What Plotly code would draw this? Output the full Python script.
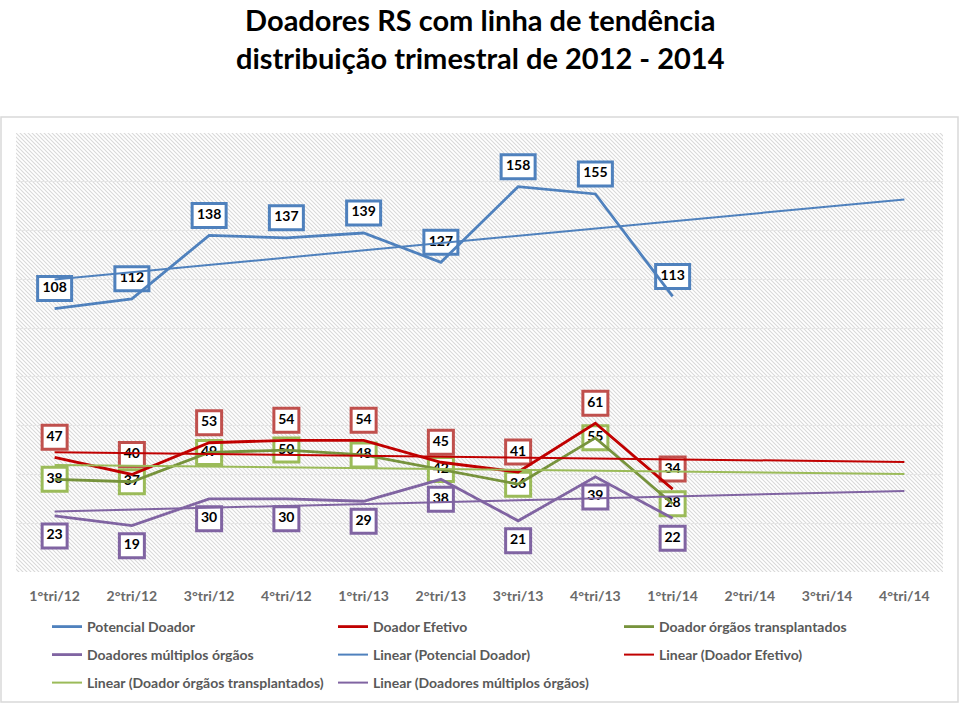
import base64
import numpy as np
import plotly.graph_objects as go

# ---------------- data ----------------
categories = ["1°tri/12", "2°tri/12", "3°tri/12", "4°tri/12",
              "1°tri/13", "2°tri/13", "3°tri/13", "4°tri/13",
              "1°tri/14", "2°tri/14", "3°tri/14", "4°tri/14"]
potencial = [108, 112, 138, 137, 139, 127, 158, 155, 113]
efetivo = [47, 40, 53, 54, 54, 45, 41, 61, 34]
transplantados = [38, 37, 49, 50, 48, 42, 36, 55, 28]
multiplos = [23, 19, 30, 30, 29, 38, 21, 39, 22]

series_names = ["Potencial Doador", "Doador Efetivo",
                "Doador órgãos transplantados", "Doadores múltiplos órgãos"]
series_values = [potencial, efetivo, transplantados, multiplos]
title_lines = ["Doadores RS com linha de tendência",
               "distribuição trimestral de 2012 - 2014"]

# ---------------- styling ----------------
W, H = 960, 704
PX0, PX1 = 16, 943          # plot area in pixels (x)
PY0, PY1 = 133, 572         # plot area in pixels (y, top/bottom)
YMAX = 180
ppu = (PY1 - PY0) / YMAX

line_colors = ["#4F81BD", "#C00000", "#77933C", "#8064A2"]
box_colors = ["#4F81BD", "#C0504D", "#9BBB59", "#8064A2"]
trend_colors = ["#4F81BD", "#C00000", "#9BBB59", "#8064A2"]
label_dy = [20, 20, 0, -20]   # label offset in px (above / centre / below)
FONT = "Lato"

fig = go.Figure()

n_data = len(potencial)
xd = np.arange(n_data)
xall = np.arange(len(categories))

shapes = []
# label boxes + label text (drawn under the lines, as in the reference)
for vals, bc, dy in zip(series_values, box_colors, label_dy):
    for i, v in enumerate(vals):
        w = 34 if len(str(v)) >= 3 else 25
        shapes.append(dict(type="rect", layer="between",
                           xref="x", yref="y", xsizemode="pixel", ysizemode="pixel",
                           xanchor=i, yanchor=v,
                           x0=-w / 2, x1=w / 2, y0=dy - 12, y1=dy + 12,
                           line=dict(color=bc, width=3), fillcolor="white"))
    fig.add_trace(go.Scatter(
        x=xd, y=[v + dy / ppu for v in vals], mode="text",
        text=[str(v) for v in vals], textposition="middle center",
        textfont=dict(family=FONT, size=14, color="#000000", weight="bold"),
        hoverinfo="skip", showlegend=False, cliponaxis=False))

# series lines
legend_of = ["legend", "legend", "legend", "legend2"]
for name, vals, lc, lg in zip(series_names, series_values, line_colors, legend_of):
    fig.add_trace(go.Scatter(x=xd, y=vals, mode="lines", name=name,
                             line=dict(color=lc, width=2.8), legend=lg,
                             cliponaxis=False))

# linear trend lines (least squares over the data, extended to all quarters)
trend_legend = ["legend2", "legend2", "legend3", "legend3"]
for name, vals, tc, lg in zip(series_names, series_values, trend_colors, trend_legend):
    slope, intercept = np.polyfit(xd, vals, 1)
    fig.add_trace(go.Scatter(x=xall, y=slope * xall + intercept, mode="lines",
                             name=f"Linear ({name})",
                             line=dict(color=tc, width=2), legend=lg))

# hatched plot-area background
pw, ph = PX1 - PX0, PY1 - PY0
svg = (f'<svg xmlns="http://www.w3.org/2000/svg" width="{pw}" height="{ph}" '
       f'viewBox="0 0 {pw} {ph}" preserveAspectRatio="none">'
       '<defs><pattern id="h" patternUnits="userSpaceOnUse" width="4" height="4">'
       '<path d="M-1,-1 L5,5 M3,-1 L5,1 M-1,3 L1,5" stroke="#d9d9d9" stroke-width="1.1"/>'
       '</pattern></defs>'
       f'<rect width="{pw}" height="{ph}" fill="white"/>'
       f'<rect width="{pw}" height="{ph}" fill="url(#h)"/></svg>')
src = "data:image/svg+xml;base64," + base64.b64encode(svg.encode()).decode()

shapes.append(dict(type="rect", xref="paper", yref="paper", layer="below",
                   x0=1 / W, x1=958 / W, y0=(H - 702) / H, y1=(H - 117) / H,
                   line=dict(color="#d9d9d9", width=1.5)))

annotations = [
    dict(text="<br>".join(title_lines), xref="paper", yref="paper", x=0.5, y=1.0,
         xanchor="center", yanchor="top", showarrow=False, align="center",
         font=dict(family=FONT, size=29, color="#000000", weight="bold"))
]

legend_common = dict(orientation="h", xanchor="left", yanchor="top",
                     x=47 / W, entrywidth=241, entrywidthmode="pixels",
                     font=dict(family=FONT, size=14, color="#595959", weight="bold"),
                     bgcolor="rgba(0,0,0,0)", itemwidth=30, traceorder="normal")

fig.update_layout(
    width=W, height=H,
    margin=dict(l=0, r=0, t=0, b=0),
    paper_bgcolor="white", plot_bgcolor="rgba(0,0,0,0)",
    xaxis=dict(domain=[PX0 / W, PX1 / W], range=[-0.5, len(categories) - 0.5],
               tickvals=list(xall), ticktext=categories, showgrid=False,
               zeroline=False, showline=False, ticks="", ticklabelstandoff=14,
               tickfont=dict(family=FONT, size=14, color="#6a6a6a", weight="bold")),
    yaxis=dict(domain=[(H - PY1) / H, (H - PY0) / H], range=[0, YMAX], dtick=20,
               showticklabels=False, gridcolor="#e6e6e6", gridwidth=1,
               zeroline=False, showline=False),
    images=[dict(source=src, xref="paper", yref="paper",
                 x=PX0 / W, y=(H - PY0) / H, sizex=pw / W, sizey=ph / H,
                 xanchor="left", yanchor="top", sizing="stretch", layer="below")],
    shapes=shapes,
    annotations=annotations,
    legend=dict(**legend_common, y=(H - 611) / H),
    legend2=dict(**legend_common, y=(H - 639) / H),
    legend3=dict(**legend_common, y=(H - 667) / H),
    showlegend=True,
)

fig.write_html("out.html", config={"displayModeBar": False},
               post_script="document.body.style.margin='0';document.body.style.overflow='hidden';")
